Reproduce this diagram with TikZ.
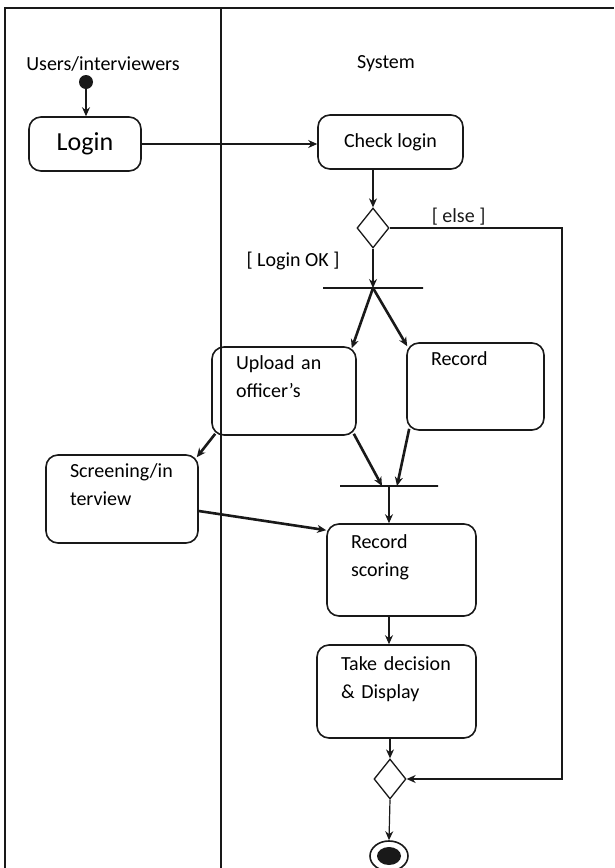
\documentclass[tikz,border=0pt]{standalone}
\usepackage{fontspec}
\setmainfont{Carlito}
\usepackage{tikz}
\usetikzlibrary{shapes.geometric,arrows.meta,positioning}
\definecolor{traitNoir}{RGB}{25,25,25}

\begin{document}
\begin{tikzpicture}[x=1pt, y=-1pt, font=\fontsize{20}{28}\selectfont,
  >={Stealth[length=9pt,width=8pt]},
  activite/.style={draw=traitNoir, line width=1.6pt, rounded corners=12pt, align=left, inner sep=0pt},
  choix/.style={diamond, draw=traitNoir, line width=1.3pt, minimum width=32pt, minimum height=40pt, inner sep=0pt},
  barre/.style={draw=traitNoir, line width=1.2pt, inner sep=0pt, minimum height=0pt},
  fleche/.style={->, traitNoir, line width=1.2pt},
  flecheForte/.style={->, traitNoir, line width=2.6pt}]

\useasboundingbox (0,0) rectangle (614,868);

\draw[traitNoir, line width=1.4pt] (5,868) -- (5,8) -- (614,8);
\draw[traitNoir, line width=1.4pt] (221,8) -- (221,868);

\node (couloirUser) at (103,64) {Users/interviewers};
\node (couloirSys) at (386,64) {System};

\node[circle, fill=traitNoir, minimum size=14pt, inner sep=0pt] (debut) at (86,82) {};

\node[activite, minimum width=112pt, minimum height=54pt, align=center, font=\fontsize{26}{30}\selectfont] (login) at (85,144) {Login};
\node[activite, minimum width=145pt, minimum height=54pt, align=center] (check) at (390.5,142) {Check login};

\node[choix] (choix1) at (373,228) {};
\coordinate (coinSinon) at (562,228);
\node (libelleOK) at (293,261) {[ Login OK ]};

\node[barre, minimum width=100pt] (fourche1) at (373,288) {};

\node[activite, minimum width=144pt, minimum height=88pt, text width=96pt] (upload) at (284,391) {Upload an\\officer's\\~};
\node[activite, minimum width=137pt, minimum height=87pt, text width=89pt] (record) at (475.5,386.5) {Record\\~\\~};

\node[barre, minimum width=98pt] (fourche2) at (389,486) {};

\node[activite, minimum width=152pt, minimum height=88pt, text width=104pt] (screen) at (122,499) {Screening/in\\terview\\~};
\node[activite, minimum width=149pt, minimum height=92pt, text width=101pt] (scoring) at (401.5,570) {Record\\scoring\\~};
\node[activite, minimum width=159pt, minimum height=93pt, text width=111pt] (decide) at (396.5,691.5) {Take decision\\\& Display\\~};

\node[choix] (choix2) at (390,779) {};

\node[ellipse, draw=traitNoir, line width=1.6pt, minimum width=38pt, minimum height=30pt, inner sep=0pt] (fin) at (389,856) {};
\node[ellipse, fill=traitNoir, minimum width=24pt, minimum height=18pt, inner sep=0pt] (finPlein) at (fin) {};

\draw[fleche] (debut) -- (debut |- login.north);
\draw[fleche] (login.east) -- (login.east -| check.west);
\draw[fleche] (choix1 |- check.south) -- (choix1.north);
\draw[fleche] (choix1.south) -- (fourche1.center);
\draw[fleche] (choix1.east) -- node[pos=0.4, above=-1pt] {[ else ]} (coinSinon) |- (choix2.east);

\draw[flecheForte] (fourche1.center) -- ([xshift=-5pt, yshift=-2pt]upload.north east);
\draw[flecheForte] (fourche1.center) -- ([xshift=1pt, yshift=-4pt]record.north west);
\draw[flecheForte] ([xshift=-3pt, yshift=2pt]upload.south east) -- ([xshift=-7pt]fourche2.center);
\draw[flecheForte] ([xshift=3pt, yshift=2pt]record.south west) -- ([xshift=8pt]fourche2.center);
\draw[flecheForte] ([xshift=4pt, yshift=2pt]upload.south west) -- ([xshift=-2pt, yshift=-3pt]screen.north east);
\draw[flecheForte] ([yshift=-12pt]screen.east) -- ([yshift=-7pt]scoring.north west);

\draw[fleche] (fourche2.center) -- (fourche2.center |- scoring.north);
\draw[fleche] (scoring.south -| fourche2) -- (decide.north -| fourche2);
\draw[fleche] (choix2 |- decide.south) -- (choix2.north);
\draw[fleche] (choix2.south) -- (fin.north);

\end{tikzpicture}
\end{document}
